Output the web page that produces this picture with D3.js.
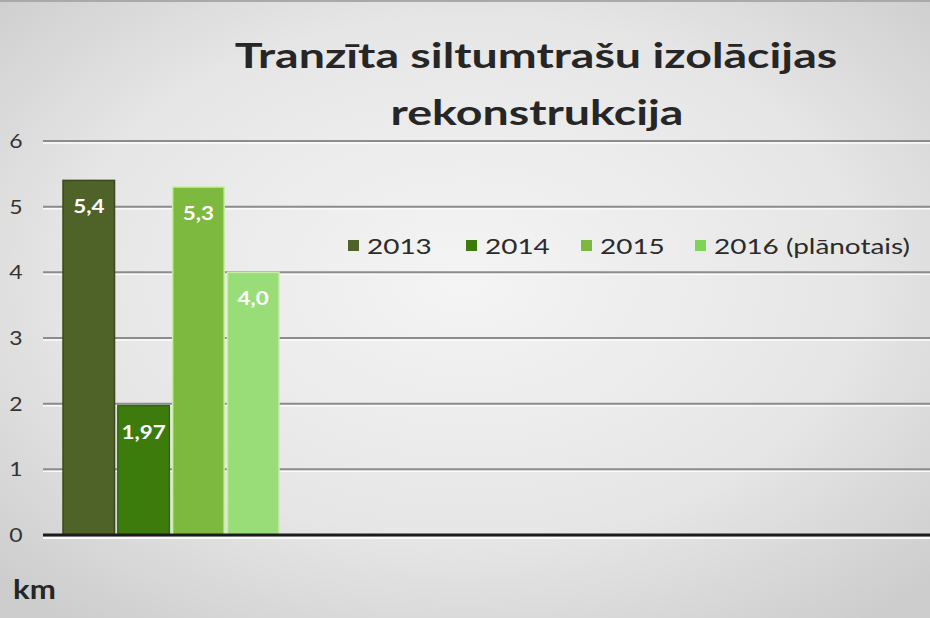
<!DOCTYPE html>
<html>
<head>
<meta charset="utf-8">
<script src="https://cdn.jsdelivr.net/npm/d3@7"></script>
<style>
  body { margin: 0; padding: 0; overflow: hidden; }
  svg { display: block; }
</style>
</head>
<body>
<div id="chart"></div>
<script>
var width = 930,
  height = 618;

// data
var years = ["2013", "2014", "2015", "2016 (plānotais)"];
var values = [5.4, 1.97, 5.3, 4.0];
var labels = ["5,4", "1,97", "5,3", "4,0"];
var colors = ["#4f6228", "#3d7b0d", "#7cb93e", "#98dd78"];
var legendColors = ["#4f6228", "#3d7b0d", "#7cb93e", "#7fd455"];
var yTicks = [0, 1, 2, 3, 4, 5, 6];

// the source picture is stretched sideways, so text is widened a bit
var sx = 1.27;

function place(x, y, s) {
  return "translate(" + x + "," + y + ") scale(" + (s || sx) + ",1)";
}

var svg = d3.select("#chart")
  .append("svg")
  .attr("width", width)
  .attr("height", height);

var defs = svg.append("defs");
var bg = defs.append("radialGradient")
  .attr("id", "bg")
  .attr("cx", "50%")
  .attr("cy", "45%")
  .attr("r", "70%");
bg.append("stop").attr("offset", "0%").attr("stop-color", "#f4f4f4");
bg.append("stop").attr("offset", "60%").attr("stop-color", "#e6e6e6");
bg.append("stop").attr("offset", "100%").attr("stop-color", "#cdcdcd");

svg.append("rect")
  .attr("width", width)
  .attr("height", height)
  .style("fill", "url(#bg)");

svg.append("line")
  .attr("x1", 0).attr("x2", width)
  .attr("y1", 1).attr("y2", 1)
  .attr("stroke", "#a9a9a9")
  .attr("stroke-width", 2);

var plotLeft = 43,
  plotRight = 930;

var yScale = d3.scaleLinear()
  .domain([0, 6])
  .range([535, 141]);

var xScale = d3.scaleBand()
  .domain(years)
  .range([63, 279])
  .paddingInner(0.06);

// title
svg.append("text")
  .attr("transform", place(536, 68, 1.33))
  .attr("text-anchor", "middle")
  .attr("font-family", "Lato")
  .attr("font-weight", "700")
  .attr("font-size", "35px")
  .attr("fill", "#262626")
  .text("Tranzīta siltumtrašu izolācijas");
svg.append("text")
  .attr("transform", place(537, 125, 1.33))
  .attr("text-anchor", "middle")
  .attr("font-family", "Lato")
  .attr("font-weight", "700")
  .attr("font-size", "35px")
  .attr("fill", "#262626")
  .text("rekonstrukcija");

// gridlines (embossed)
var grid = svg.append("g");
grid.selectAll(".gl-hi")
  .data(yTicks.filter(function(d) { return d > 0; }))
  .enter().append("line")
  .attr("x1", plotLeft).attr("x2", plotRight)
  .attr("y1", function(d) { return yScale(d) + 2; })
  .attr("y2", function(d) { return yScale(d) + 2; })
  .attr("stroke", "#fbfbfb")
  .attr("stroke-width", 1.5);
grid.selectAll(".gl")
  .data(yTicks.filter(function(d) { return d > 0; }))
  .enter().append("line")
  .attr("x1", plotLeft).attr("x2", plotRight)
  .attr("y1", function(d) { return yScale(d); })
  .attr("y2", function(d) { return yScale(d); })
  .attr("stroke", "#8c8c8c")
  .attr("stroke-width", 2);

// y tick labels
svg.selectAll(".ytick")
  .data(yTicks)
  .enter().append("text")
  .attr("transform", function(d) { return place(16, yScale(d) + 7, 1.15); })
  .attr("text-anchor", "middle")
  .attr("font-family", "Lato")
  .attr("font-size", "20px")
  .attr("fill", "#333")
  .text(function(d) { return d; });

// bars
svg.selectAll(".bar")
  .data(values)
  .enter().append("rect")
  .attr("x", function(d, i) { return xScale(years[i]); })
  .attr("y", function(d) { return yScale(d); })
  .attr("width", xScale.bandwidth())
  .attr("height", function(d) { return yScale(0) - yScale(d); })
  .attr("fill", function(d, i) { return colors[i]; })
  .attr("stroke", function(d, i) { return i == 0 ? "#3a4a1c" : (i == 1 ? "#2f6a08" : "#c9eda9"); })
  .attr("stroke-width", 1.5);

// zero axis
svg.append("line")
  .attr("x1", plotLeft).attr("x2", plotRight)
  .attr("y1", yScale(0) + 3).attr("y2", yScale(0) + 3)
  .attr("stroke", "#fafafa")
  .attr("stroke-width", 2);
svg.append("line")
  .attr("x1", plotLeft).attr("x2", plotRight)
  .attr("y1", yScale(0)).attr("y2", yScale(0))
  .attr("stroke", "#1c1c1c")
  .attr("stroke-width", 3);

// value labels
svg.selectAll(".vlabel")
  .data(values)
  .enter().append("text")
  .attr("transform", function(d, i) {
    return place(xScale(years[i]) + xScale.bandwidth() / 2, yScale(d) + 33, 1.18);
  })
  .attr("text-anchor", "middle")
  .attr("font-family", "Lato")
  .attr("font-weight", "700")
  .attr("font-size", "19px")
  .attr("fill", "#ffffff")
  .text(function(d, i) { return labels[i]; });

// legend
var legendX = [348, 466, 581, 695];
var legend = svg.selectAll(".legend")
  .data(years)
  .enter().append("g")
  .attr("transform", function(d, i) { return "translate(" + legendX[i] + ",246)"; });
legend.append("rect")
  .attr("x", 0).attr("y", -6)
  .attr("width", 11).attr("height", 11)
  .attr("fill", function(d, i) { return legendColors[i]; });
legend.append("text")
  .attr("transform", place(19, 8))
  .attr("font-family", "Lato")
  .attr("font-size", "22px")
  .attr("fill", "#2b2b2b")
  .text(function(d) { return d; });

// axis unit
svg.append("text")
  .attr("transform", place(13, 599, 1.2))
  .attr("font-family", "Lato")
  .attr("font-weight", "700")
  .attr("font-size", "26px")
  .attr("fill", "#262626")
  .text("km");
</script>
</body>
</html>
